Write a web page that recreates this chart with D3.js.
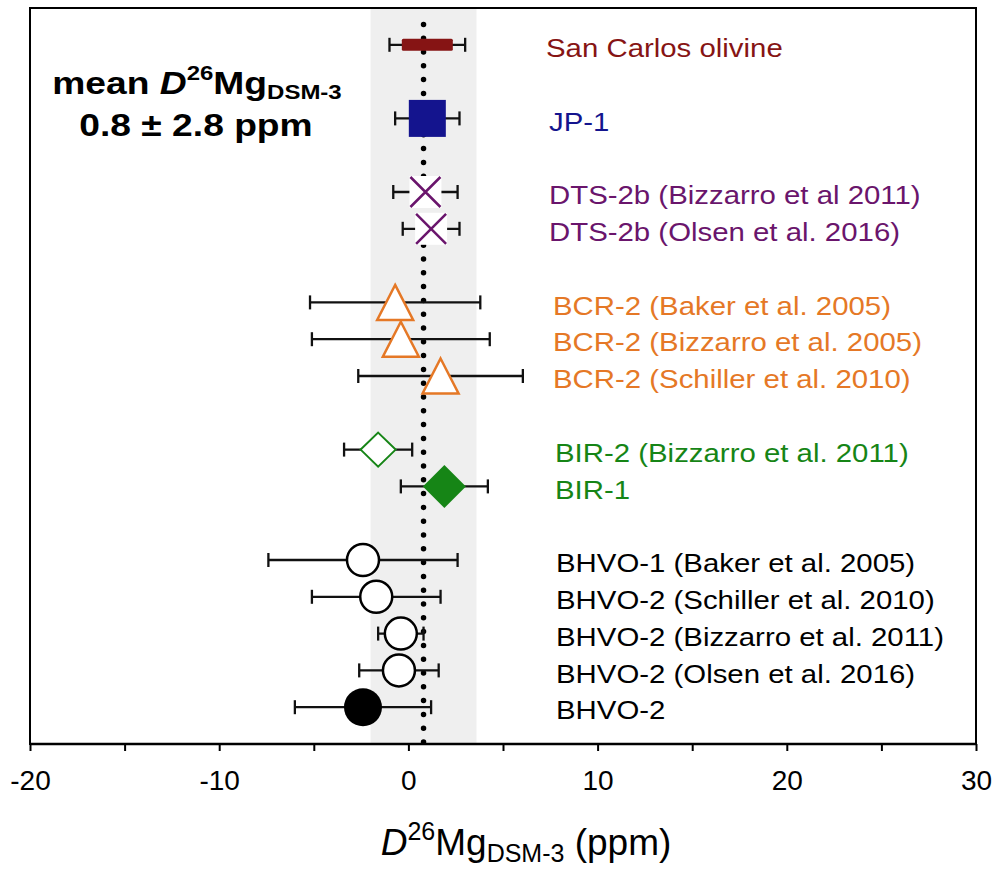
<!DOCTYPE html>
<html>
<head>
<meta charset="utf-8">
<script src="https://cdnjs.cloudflare.com/ajax/libs/d3/7.8.5/d3.min.js"></script>
<style>
  body { margin: 0; background: #fff; }
  text { font-family: "Liberation Sans", Arial, sans-serif; }
</style>
</head>
<body>
<script>
// samples, top to bottom
const samples = [
    "San Carlos olivine", "JP-1",
    "DTS-2b (Bizzarro et al 2011)", "DTS-2b (Olsen et al. 2016)",
    "BCR-2 (Baker et al. 2005)", "BCR-2 (Bizzarro et al. 2005)", "BCR-2 (Schiller et al. 2010)",
    "BIR-2 (Bizzarro et al. 2011)", "BIR-1",
    "BHVO-1 (Baker et al. 2005)", "BHVO-2 (Schiller et al. 2010)", "BHVO-2 (Bizzarro et al. 2011)",
    "BHVO-2 (Olsen et al. 2016)", "BHVO-2"
];
const rowIndex = [0, 2, 4, 5, 7, 8, 9, 11, 12, 14, 15, 16, 17, 18];
const values = [1.0, 1.0, 0.9, 1.2, -0.7, -0.4, 1.7, -1.6, 1.9, -2.4, -1.7, -0.4, -0.5, -2.4];
const errors = [2.0, 1.7, 1.7, 1.5, 4.5, 4.7, 4.35, 1.8, 2.3, 5.0, 3.4, 1.2, 2.1, 3.6];
const markers = ["bar", "square", "x", "x", "triangle", "triangle", "triangle",
    "diamondOpen", "diamond", "circleOpen", "circleOpen", "circleOpen", "circleOpen", "circle"];
const groups = ["sc", "jp", "dts", "dts", "bcr", "bcr", "bcr", "bir", "bir",
    "bhvo", "bhvo", "bhvo", "bhvo", "bhvo"];

const meanValue = 0.8;
const meanUnc = 2.8;

const majorTicks = [-20, -10, 0, 10, 20, 30];
const minorTicks = [-15, -5, 5, 15, 25];

// colours and label offsets per sample group
const groupStyle = {
    sc:   {color: "#861414", labelX: 546},
    jp:   {color: "#14148e", labelX: 549},
    dts:  {color: "#6a156c", labelX: 549},
    bcr:  {color: "#e57826", labelX: 553},
    bir:  {color: "#168516", labelX: 555},
    bhvo: {color: "#000000", labelX: 556}
};

const d3 = window.d3;

let W = 998, H = 870;
let plot = {left: 30, right: 976, top: 8, bottom: 744};

let svg = d3.select("body").append("svg")
    .attr("width", W)
    .attr("height", H);

let x = d3.scaleLinear()
    .domain([-20, 30])
    .range([plot.left, plot.right]);

let y = d3.scaleLinear()
    .domain([-1, 19])
    .range([plot.top, plot.bottom]);

// uncertainty band of the mean
svg.append("rect")
    .attr("x", x(meanValue - meanUnc))
    .attr("y", plot.top)
    .attr("width", x(meanValue + meanUnc) - x(meanValue - meanUnc))
    .attr("height", plot.bottom - plot.top)
    .attr("fill", "#efefef");

// mean dotted line
svg.append("line")
    .attr("x1", x(meanValue)).attr("x2", x(meanValue))
    .attr("y1", plot.bottom - 2).attr("y2", plot.top + 8)
    .attr("stroke", "#000")
    .attr("stroke-width", 5.5)
    .attr("stroke-linecap", "round")
    .attr("stroke-dasharray", "0 13.8");

// frame
svg.append("rect")
    .attr("x", plot.left).attr("y", plot.top)
    .attr("width", plot.right - plot.left)
    .attr("height", plot.bottom - plot.top)
    .attr("fill", "none")
    .attr("stroke", "#000")
    .attr("stroke-width", 2);

// x axis
let xAxis = d3.axisBottom(x)
    .tickValues(majorTicks.concat(minorTicks))
    .tickSize(7)
    .tickPadding(19)
    .tickFormat(d => majorTicks.includes(d) ? String(d) : "");

let gx = svg.append("g")
    .attr("transform", "translate(0," + plot.bottom + ")")
    .call(xAxis);
gx.select(".domain").attr("stroke-width", 2.6).attr("d", "M" + plot.left + ",0H" + plot.right);
gx.selectAll(".tick line").attr("stroke-width", 2);
gx.selectAll(".tick text")
    .attr("font-size", 28)
    .attr("font-family", "Liberation Sans, Arial, sans-serif")
    .attr("fill", "#000");

let data = samples.map((s, i) => ({
    label: s, row: rowIndex[i], v: values[i], e: errors[i],
    marker: markers[i], style: groupStyle[groups[i]]
}));

// error bars
let eb = svg.selectAll(".errbar")
    .data(data)
    .enter().append("g")
    .attr("class", "errbar")
    .attr("stroke", "#111")
    .attr("stroke-width", 2.3);

eb.append("line")
    .attr("x1", d => x(d.v - d.e)).attr("x2", d => x(d.v + d.e))
    .attr("y1", d => y(d.row)).attr("y2", d => y(d.row));
eb.append("line")
    .attr("x1", d => x(d.v - d.e)).attr("x2", d => x(d.v - d.e))
    .attr("y1", d => y(d.row) - 7).attr("y2", d => y(d.row) + 7);
eb.append("line")
    .attr("x1", d => x(d.v + d.e)).attr("x2", d => x(d.v + d.e))
    .attr("y1", d => y(d.row) - 7).attr("y2", d => y(d.row) + 7);

// markers
let mk = svg.selectAll(".marker")
    .data(data)
    .enter().append("g")
    .attr("class", "marker")
    .attr("transform", d => "translate(" + x(d.v) + "," + y(d.row) + ")");

mk.each(function (d) {
    let g = d3.select(this);
    let c = d.style.color;
    switch (d.marker) {
        case "bar":
            g.append("rect").attr("x", -25.5).attr("y", -6).attr("width", 51).attr("height", 12)
                .attr("rx", 1.5).attr("fill", c);
            break;
        case "square":
            g.append("rect").attr("x", -18.5).attr("y", -18.5).attr("width", 37).attr("height", 37)
                .attr("fill", c);
            break;
        case "x":
            g.append("rect").attr("x", -16).attr("y", -16).attr("width", 32).attr("height", 32)
                .attr("fill", "#fff");
            g.append("path").attr("d", "M-15,-15L15,15M-15,15L15,-15")
                .attr("stroke", c).attr("stroke-width", 2.5).attr("fill", "none");
            break;
        case "triangle":
            g.append("path").attr("d", "M0,-17.5L18,17.5L-18,17.5Z")
                .attr("fill", "#fff").attr("stroke", c).attr("stroke-width", 2.5)
                .attr("stroke-linejoin", "miter");
            break;
        case "diamondOpen":
            g.append("path").attr("d", "M0,-17L17.5,0L0,17L-17.5,0Z")
                .attr("fill", "#fff").attr("stroke", c).attr("stroke-width", 2);
            break;
        case "diamond":
            g.append("path").attr("d", "M0,-21.5L21.5,0L0,21.5L-21.5,0Z")
                .attr("fill", c);
            break;
        case "circleOpen":
            g.append("circle").attr("r", 16)
                .attr("fill", "#fff").attr("stroke", c).attr("stroke-width", 2.5);
            break;
        case "circle":
            g.append("circle").attr("r", 19).attr("fill", c);
            break;
    }
});

// sample labels
svg.selectAll(".label")
    .data(data)
    .enter().append("text")
    .attr("class", "label")
    .attr("transform", d => "translate(" + d.style.labelX + "," + y(d.row) + ") scale(1.13,1)")
    .attr("dy", "0.47em")
    .attr("font-size", 26)
    .attr("fill", d => d.style.color)
    .text(d => d.label);

// mean annotation
let ann1 = svg.append("text")
    .attr("transform", "translate(197,94) scale(1.2,1)")
    .attr("text-anchor", "middle")
    .attr("font-size", 31)
    .attr("font-weight", "bold");
ann1.append("tspan").text("mean ");
ann1.append("tspan").attr("font-style", "italic").text("D");
ann1.append("tspan").attr("font-size", 20).attr("dy", -14).text("26");
ann1.append("tspan").attr("dy", 14).text("Mg");
ann1.append("tspan").attr("font-size", 20).attr("dy", 5).text("DSM-3");

svg.append("text")
    .attr("transform", "translate(196,136) scale(1.2,1)")
    .attr("text-anchor", "middle")
    .attr("font-size", 31)
    .attr("font-weight", "bold")
    .text("0.8 \u00b1 " + meanUnc.toFixed(1) + " ppm");

// x axis title
let xt = svg.append("text")
    .attr("transform", "translate(526,855)")
    .attr("text-anchor", "middle")
    .attr("font-size", 37);
xt.append("tspan").attr("font-style", "italic").text("D");
xt.append("tspan").attr("font-size", 25).attr("dy", -15).text("26");
xt.append("tspan").attr("dy", 15).text("Mg");
xt.append("tspan").attr("font-size", 25).attr("dy", 7).text("DSM-3");
xt.append("tspan").attr("dy", -7).text(" (ppm)");
</script>
</body>
</html>
